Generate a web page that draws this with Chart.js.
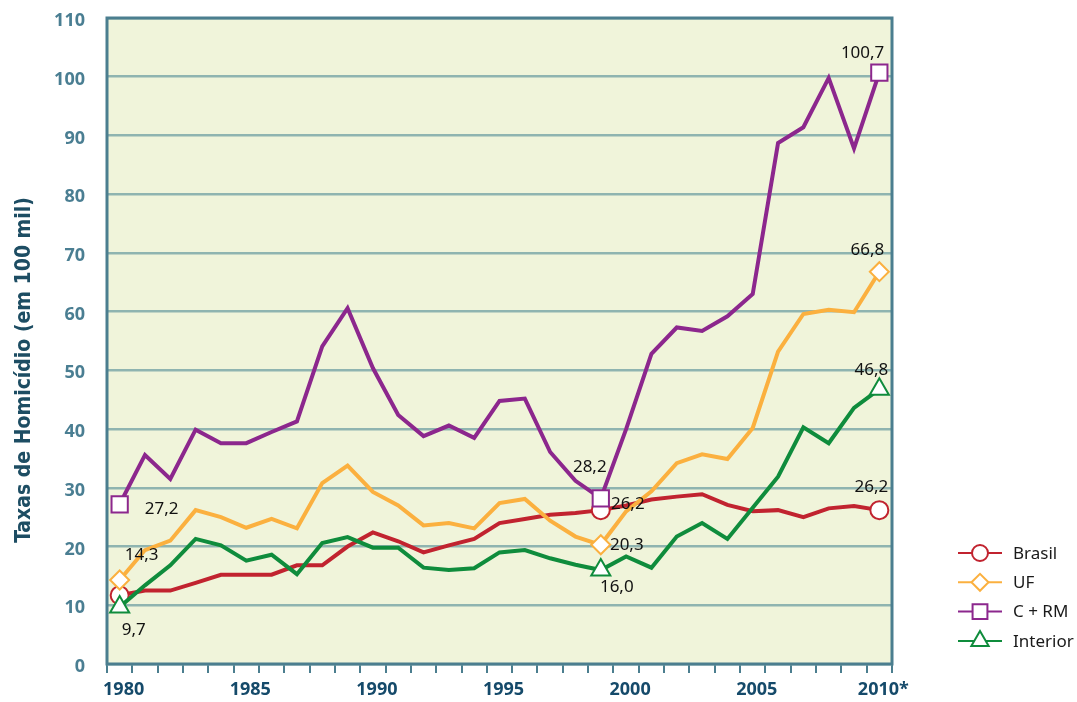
<!DOCTYPE html>
<html>
<head>
<meta charset="utf-8">
<script src="https://cdn.jsdelivr.net/npm/chart.js@4.4.1/dist/chart.umd.min.js"></script>
<style>
    html, body { margin: 0; padding: 0; background: #fff; }
    .chart_wrap { width: 1077px; height: 702px; }
</style>
</head>
<body>
<div class="chart_wrap"><canvas id="myChart"></canvas></div>
<script>
const years = ["1980", "1981", "1982", "1983", "1984", "1985", "1986", "1987", "1988", "1989",
    "1990", "1991", "1992", "1993", "1994", "1995", "1996", "1997", "1998", "1999",
    "2000", "2001", "2002", "2003", "2004", "2005", "2006", "2007", "2008", "2009", "2010*"];

const brasil = [11.7, 12.5, 12.5, 13.8, 15.2, 15.2, 15.2, 16.8, 16.8, 20.0,
    22.4, 20.9, 19.0, 20.2, 21.3, 24.0, 24.7, 25.4, 25.7, 26.2,
    27.0, 28.0, 28.5, 28.9, 27.1, 26.0, 26.2, 25.0, 26.5, 26.9, 26.2];
const uf = [14.3, 19.4, 21.0, 26.2, 25.0, 23.2, 24.7, 23.1, 30.8, 33.8,
    29.3, 27.0, 23.6, 24.0, 23.1, 27.4, 28.1, 24.4, 21.7, 20.3,
    26.0, 29.4, 34.2, 35.7, 34.9, 40.2, 53.2, 59.6, 60.3, 59.9, 66.8];
const cRm = [27.2, 35.6, 31.5, 39.9, 37.6, 37.6, 39.5, 41.3, 54.1, 60.6,
    50.4, 42.4, 38.8, 40.6, 38.5, 44.8, 45.2, 36.1, 31.2, 28.2,
    40.0, 52.8, 57.3, 56.7, 59.2, 63.0, 88.7, 91.4, 99.8, 87.8, 100.7];
const interior = [9.7, 13.4, 16.8, 21.3, 20.2, 17.6, 18.6, 15.3, 20.6, 21.6,
    19.8, 19.8, 16.4, 16.0, 16.3, 19.0, 19.4, 18.0, 16.9, 16.0,
    18.3, 16.4, 21.7, 24.0, 21.3, 26.6, 31.9, 40.3, 37.6, 43.6, 46.8];

const seriesNames = ["Brasil", "UF", "C + RM", "Interior"];
const markedPoints = [0, 19, 30];
const yTicks = [0, 10, 20, 30, 40, 50, 60, 70, 80, 90, 100, 110];
const yTitle = "Taxas de Homicídio (em 100 mil)";

// which points get a number, and where the text sits (offset from the point)
const valueLabels = [
    { ds: 2, i: 0, dx: 42, dy: 5, align: "center" },
    { ds: 1, i: 0, dx: 22, dy: -25, align: "center" },
    { ds: 3, i: 0, dx: 14, dy: 23, align: "center" },
    { ds: 2, i: 19, dx: -11, dy: -31, align: "center" },
    { ds: 0, i: 19, dx: 27, dy: -6, align: "center" },
    { ds: 1, i: 19, dx: 26, dy: 0, align: "center" },
    { ds: 3, i: 19, dx: 16, dy: 17, align: "center" },
    { ds: 2, i: 30, dx: 5, dy: -19, align: "right" },
    { ds: 1, i: 30, dx: 5, dy: -22, align: "right" },
    { ds: 3, i: 30, dx: 9, dy: -19, align: "right" },
    { ds: 0, i: 30, dx: 9, dy: -23, align: "right" },
];

const colors = ["#c1232f", "#fbb03f", "#8c278d", "#0f8c3c"];
const styles = ["circle", "rectRot", "rect", "triangle"];
const radii = [9, 9.5, 11.5, 11];

function makeDataset(idx, values) {
    return {
        label: seriesNames[idx],
        data: values,
        borderColor: colors[idx],
        backgroundColor: "#ffffff",
        borderWidth: 4,
        tension: 0,
        order: 4 - idx,
        pointStyle: styles[idx],
        pointRadius: (c) => (markedPoints.includes(c.dataIndex) ? radii[idx] : 0),
        pointBorderWidth: 2,
        pointBorderColor: colors[idx],
        pointBackgroundColor: "#ffffff",
    };
}

const frameColor = "#4b7e8f";

const backgroundPlugin = {
    id: "bgFrame",
    beforeDraw(chart) {
        const { ctx, chartArea: a } = chart;
        ctx.save();
        ctx.fillStyle = "#ffffff";
        ctx.fillRect(0, 0, chart.width, chart.height);
        ctx.fillStyle = "#f0f4da";
        ctx.fillRect(a.left, a.top, a.right - a.left, a.bottom - a.top);
        ctx.restore();
    },
    beforeDatasetsDraw(chart) {
        const { ctx, chartArea: a } = chart;
        ctx.save();
        ctx.strokeStyle = frameColor;
        ctx.lineWidth = 3;
        ctx.strokeRect(a.left, a.top, a.right - a.left, a.bottom - a.top);
        ctx.restore();
    },
};

// y title sits a bit below the middle of the axis in the original
const titlePlugin = {
    id: "yTitle",
    afterDraw(chart) {
        const ctx = chart.ctx;
        ctx.save();
        ctx.translate(25, 370);
        ctx.rotate(-Math.PI / 2);
        ctx.font = "bold 21px 'DejaVu Sans Condensed'";
        ctx.fillStyle = "#1d4d63";
        ctx.textAlign = "center";
        ctx.textBaseline = "middle";
        ctx.fillText(yTitle, 0, 0);
        ctx.restore();
    },
};

const labelsPlugin = {
    id: "valueLabels",
    afterDatasetsDraw(chart) {
        const ctx = chart.ctx;
        ctx.save();
        ctx.font = "17px 'Noto Sans'";
        ctx.fillStyle = "#111111";
        ctx.textBaseline = "middle";
        valueLabels.forEach((l) => {
            const pt = chart.getDatasetMeta(l.ds).data[l.i];
            const v = chart.data.datasets[l.ds].data[l.i];
            ctx.textAlign = l.align;
            ctx.fillText(v.toFixed(1).replace(".", ","), pt.x + l.dx, pt.y + l.dy);
        });
        ctx.restore();
    },
};

const legendPlugin = {
    id: "sideLegend",
    afterDraw(chart) {
        const ctx = chart.ctx;
        const x0 = 958, x1 = 1002, tx = 1013;
        ctx.save();
        ctx.font = "17px 'Noto Sans'";
        ctx.textBaseline = "middle";
        ctx.textAlign = "left";
        seriesNames.forEach((name, k) => {
            const y = 553 + k * 29.3;
            ctx.strokeStyle = colors[k];
            ctx.lineWidth = 2;
            ctx.beginPath();
            ctx.moveTo(x0, y);
            ctx.lineTo(x1, y);
            ctx.stroke();
            ctx.fillStyle = "#ffffff";
            ctx.strokeStyle = colors[k];
            Chart.helpers.drawPoint(ctx, {
                pointStyle: styles[k],
                radius: radii[k] - 1,
                rotation: 0,
                borderWidth: 2,
            }, (x0 + x1) / 2, y);
            ctx.fillStyle = "#1a1a1a";
            ctx.fillText(name, tx, y + 1);
        });
        ctx.restore();
    },
};

const ctx = document.getElementById("myChart").getContext("2d");
const myChart = new Chart(ctx, {
    type: "line",
    data: {
        labels: years,
        datasets: [
            makeDataset(0, brasil),
            makeDataset(1, uf),
            makeDataset(2, cRm),
            makeDataset(3, interior),
        ],
    },
    options: {
        responsive: true,
        maintainAspectRatio: false,
        animation: false,
        events: [],
        layout: { padding: { left: 0, right: 185, top: 18, bottom: 0 } },
        plugins: {
            legend: { display: false },
            tooltip: { enabled: false },
        },
        scales: {
            x: {
                type: "category",
                offset: true,
                afterFit: (s) => { s.height = 38; },
                border: { display: false },
                grid: {
                    offset: true,
                    drawOnChartArea: false,
                    drawTicks: true,
                    tickLength: 9,
                    color: frameColor,
                    lineWidth: 2,
                },
                ticks: {
                    autoSkip: false,
                    maxRotation: 0,
                    padding: 6,
                    labelOffset: 4,
                    color: "#154a6a",
                    font: { family: "'Open Sans'", size: 18, weight: "bold" },
                    callback: (val, i) => (i % 5 === 0 ? years[i] : ""),
                },
            },
            y: {
                min: 0,
                max: 110,
                afterFit: (s) => {
                    s.width = 107;
                    s.paddingTop = 0;
                    s.paddingBottom = 0;
                },
                afterBuildTicks: (s) => { s.ticks = yTicks.map((v) => ({ value: v })); },
                border: { display: false },
                grid: {
                    drawTicks: false,
                    color: "#8fb4b0",
                    lineWidth: 2.5,
                },
                ticks: {
                    padding: 22,
                    labelOffset: 3,
                    color: "#4a7e92",
                    font: { family: "'Open Sans'", size: 18, weight: "bold" },
                },
            },
        },
    },
    plugins: [backgroundPlugin, labelsPlugin, legendPlugin, titlePlugin],
});
</script>
</body>
</html>
